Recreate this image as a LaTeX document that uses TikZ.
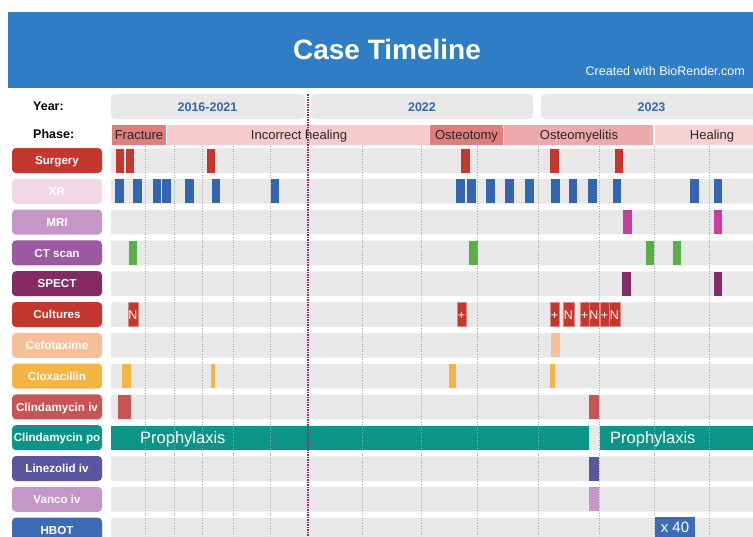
\documentclass[tikz,border=0pt]{standalone}
\usepackage{fontspec}
\setmainfont{Liberation Sans}
\definecolor{hdr}{HTML}{2F7DC4}
\definecolor{rowgray}{HTML}{E8E8E8}
\definecolor{yeartxt}{HTML}{3667A8}
\definecolor{phA}{HTML}{E07E7E}
\definecolor{phB}{HTML}{F5CBCB}
\definecolor{phC}{HTML}{EDAAAA}
\definecolor{phD}{HTML}{F6D2D2}
\definecolor{cSurg}{HTML}{C4372F}
\definecolor{cXRl}{HTML}{F2D7E9}
\definecolor{cXR}{HTML}{3465B0}
\definecolor{cMRIl}{HTML}{C596C8}
\definecolor{cMRI}{HTML}{C93D9B}
\definecolor{cCTl}{HTML}{9B59A0}
\definecolor{cCT}{HTML}{58AE47}
\definecolor{cSPECT}{HTML}{852B64}
\definecolor{cCefo}{HTML}{F6BF9B}
\definecolor{cClox}{HTML}{F2B443}
\definecolor{cCliv}{HTML}{C75555}
\definecolor{cTeal}{HTML}{0B9488}
\definecolor{cLine}{HTML}{5A569E}
\definecolor{cVanco}{HTML}{C597C9}
\definecolor{cHBOT}{HTML}{3D6BB4}
\definecolor{cPurp}{HTML}{8E2C6E}
\begin{document}
\begin{tikzpicture}[x=1pt,y=-1pt,
  lbox/.style={font=\fontsize{11.6}{14}\selectfont\bfseries, text=white, text height=8.3pt, text depth=0pt,
    inner sep=0pt, minimum width=90pt, minimum height=25pt, rounded corners=4pt},
  hlab/.style={font=\fontsize{12.5}{14}\selectfont\bfseries, text height=9pt, text depth=0pt, inner sep=0pt, anchor=west},
  ylab/.style={font=\fontsize{12.5}{14}\selectfont\bfseries, text=yeartxt, text height=9pt, text depth=0pt, inner sep=0pt},
  plab/.style={font=\fontsize{13}{15}\selectfont, text=black!85, text height=9.3pt, text depth=0pt, inner sep=0pt},
  evtxt/.style={font=\fontsize{12.5}{14}\selectfont, text=white, text height=9pt, text depth=0pt, inner sep=0pt},
  proph/.style={font=\fontsize{16.5}{18}\selectfont, text=white, text height=11.8pt, text depth=0pt, inner sep=0pt, anchor=west},
  vgrid/.style={black!35, dotted, line width=0.6pt}
]
\clip (0,0) rectangle (753,536);
\fill[white] (0,0) rectangle (753,536);
% header
\fill[hdr] (8,12) rectangle (753,88);
\node[font=\fontsize{28}{30}\selectfont\bfseries, text=white, text height=20pt, text depth=0pt, inner sep=0pt] (title) at (387,49) {Case Timeline};
\node[font=\fontsize{12.5}{14}\selectfont, text=white, text height=9pt, text depth=0pt, inner sep=0pt, anchor=east] (credit) at (745,71) {Created with BioRender.com};
% year row
\node[hlab] (yearlab) at (33,106) {Year:};
\fill[rowgray, rounded corners=4pt] (111,94) rectangle (305,119);
\fill[rowgray, rounded corners=4pt] (311,94) rectangle (533,119);
\fill[rowgray, rounded corners=4pt] (541,94) rectangle (770,119);
\node[ylab] (y1) at (207.5,106.5) {2016-2021};
\node[ylab] (y2) at (422,106.5) {2022};
\node[ylab] (y3) at (651.5,106.5) {2023};
% phase row
\node[hlab] (phaselab) at (33,134) {Phase:};
\fill[phA] (112,125) rectangle (166,144.5);
\fill[phB] (167,125) rectangle (429,144.5);
\fill[phA] (430,125) rectangle (503,144.5);
\fill[phC] (504,125) rectangle (653,144.5);
\fill[phD] (655,125) rectangle (760,144.5);
\node[plab] (p1) at (139,134.8) {Fracture};
\node[plab] (p2) at (299,134.8) {Incorrect healing};
\node[plab] (p3) at (466.5,134.8) {Osteotomy};
\node[plab] (p4) at (579,134.8) {Osteomyelitis};
\node[plab] (p5) at (712,134.8) {Healing};
% gray rows
\foreach \r in {0,...,12} {
  \pgfmathsetmacro\yc{160.5+30.8*\r}
  \fill[rowgray, rounded corners=2pt] (111,\yc-12.25) rectangle (770,\yc+12.25);
}
% row labels
\foreach \r/\nm/\col/\txt in {0/surgery/cSurg/Surgery, 1/xr/cXRl/XR, 2/mri/cMRIl/MRI, 3/ct/cCTl/CT scan,
   4/spect/cSPECT/SPECT, 5/cultures/cSurg/Cultures, 6/cefo/cCefo/Cefotaxime, 7/clox/cClox/Cloxacillin,
   8/cliniv/cCliv/Clindamycin iv, 9/clinpo/cTeal/Clindamycin po, 10/linez/cLine/Linezolid iv,
   11/vanco/cVanco/Vanco iv, 12/hbot/cHBOT/HBOT} {
  \pgfmathsetmacro\yc{160.5+30.8*\r}
  \node[lbox, fill=\col] (\nm) at (57,\yc) {\txt};
}
% events
\foreach \r/\a/\b/\c in {
  0/116/124/cSurg, 0/126/134/cSurg, 0/207/215/cSurg, 0/461/470/cSurg, 0/550/559/cSurg, 0/615/623/cSurg,
  1/115/124/cXR, 1/133/142/cXR, 1/153/161/cXR, 1/162/171/cXR, 1/185/194/cXR, 1/212/220/cXR, 1/271/279/cXR,
  1/456/465/cXR, 1/467/476/cXR, 1/486/495/cXR, 1/505/514/cXR, 1/525/534/cXR, 1/551/560/cXR, 1/569/577/cXR,
  1/588/597/cXR, 1/613/621/cXR, 1/690/699/cXR, 1/714/722/cXR,
  2/623/632/cMRI, 2/714/722/cMRI,
  3/129/137/cCT, 3/469/478/cCT, 3/646/654/cCT, 3/673/681/cCT,
  4/622/631/cSPECT, 4/714/722/cSPECT,
  6/551/560/cCefo,
  7/122/131/cClox, 7/211/215/cClox, 7/449/456/cClox, 7/550/555/cClox,
  8/118/131/cCliv, 8/589/599/cCliv,
  9/111/589/cTeal, 9/600/770/cTeal,
  10/589/599/cLine, 11/589/599/cVanco} {
  \pgfmathsetmacro\yc{160.5+30.8*\r}
  \fill[\c] (\a,\yc-12) rectangle (\b,\yc+12);
}
% cultures
\foreach \a/\b/\t in {128/138/N, 457/466/+, 550/559/+, 563/574/N, 580/589/+, 589/599/N, 600/609/+, 609/620/N} {
  \pgfmathsetmacro\yc{160.5+30.8*5}
  \filldraw[fill=cSurg, draw=cSurg!60!white, line width=0.4pt] (\a,\yc-12) rectangle (\b,\yc+12);
  \node[evtxt] at ({(\a+\b)/2},\yc) {\t};
}
% HBOT
\fill[cHBOT] (655,517) rectangle (695,540);
% grid lines
\foreach \x in {145,174,202,233,270,362,421,477,538,599,654,709} {
  \draw[vgrid] (\x,146) -- (\x,536);
}
% year divider
\draw[cPurp, line width=2.8pt, dash pattern=on 1.5pt off 1pt] (308,94) -- (308,536);
% texts on bars
\node[proph] (pr1) at (140,437.7) {Prophylaxis};
\node[proph] (pr2) at (610,437.7) {Prophylaxis};
\node[font=\fontsize{15}{17}\selectfont, text=white, text height=10.7pt, text depth=0pt, inner sep=0pt] (x40) at (675,527) {x 40};
\end{tikzpicture}
\end{document}
